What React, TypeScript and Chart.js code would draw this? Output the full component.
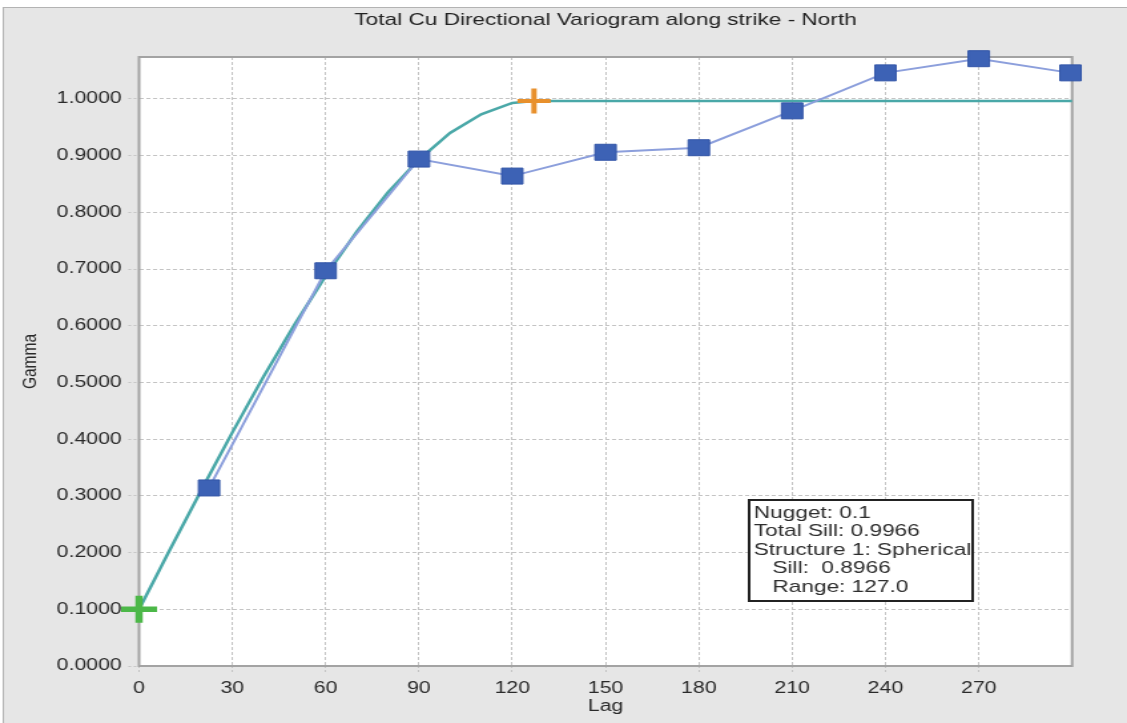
import React, { useEffect, useRef } from "react";
import { Chart, registerables } from "chart.js";

Chart.register(...registerables);

// ---- data ----
const TITLE = "Total Cu Directional Variogram along strike - North";
const X_LABEL = "Lag";
const Y_LABEL = "Gamma";

const lagValues = [22.5, 60, 90, 120, 150, 180, 210, 240, 270, 299.5];
const gammaValues = [0.314, 0.697, 0.894, 0.864, 0.906, 0.914, 0.979, 1.046, 1.071, 1.046];

const modelLags = [0, 5, 10, 15, 20, 25, 30, 40, 50, 60, 70, 80, 90, 100, 110, 120, 127, 300];
const modelGamma = [0.1, 0.153, 0.206, 0.258, 0.31, 0.361, 0.412, 0.51, 0.602, 0.688, 0.766, 0.835, 0.893, 0.94, 0.973, 0.993, 0.9966, 0.9966];

const nuggetPoint = { x: 0, y: 0.1 };
const rangePoint = { x: 127, y: 0.9966 };

const infoLines = ["Nugget: 0.1", "Total Sill: 0.9966", "Structure 1: Spherical", "Sill:  0.8966", "Range: 127.0"];
const infoIndent = [0, 0, 0, 1, 1];

const X_MAX = 300;
const X_STEP = 30;
const Y_MAX = 1.074;
const Y_STEP = 0.1;

// ---- layout (internal canvas is stretched horizontally to match the reference) ----
const OUT_W = 1127;
const OUT_H = 723;
const STRETCH = 1.3306;
const IN_W = Math.round(OUT_W / STRETCH);
const FONT = "'Liberation Sans', Arial, sans-serif";

const bgPlugin = {
  id: "bgPlugin",
  beforeDraw(chart: any) {
    const { ctx, width, height, chartArea: a } = chart;
    ctx.save();
    ctx.fillStyle = "#ffffff";
    ctx.fillRect(0, 0, width, height);
    ctx.fillStyle = "#e6e6e6";
    ctx.fillRect(2.5, 7, width, height);
    ctx.strokeStyle = "#b3b3b3";
    ctx.lineWidth = 1;
    ctx.strokeRect(2.5, 7.5, width + 20, height + 20);
    ctx.fillStyle = "#ffffff";
    ctx.fillRect(a.left, a.top, a.right - a.left, a.bottom - a.top);
    ctx.restore();
  },
  beforeDatasetsDraw(chart: any) {
    const { ctx, chartArea: a } = chart;
    ctx.save();
    ctx.strokeStyle = "#a3a3a3";
    ctx.lineWidth = 2;
    ctx.strokeRect(a.left, a.top, a.right - a.left, a.bottom - a.top);
    ctx.restore();
  },
  afterDraw(chart: any) {
    const { ctx, chartArea: a } = chart;
    const bw = 168;
    const bh = 101;
    const bx = a.right - 74.7 - bw;
    const by = a.bottom - 65 - bh;
    ctx.save();
    ctx.fillStyle = "#ffffff";
    ctx.fillRect(bx, by, bw, bh);
    ctx.strokeStyle = "#222222";
    ctx.lineWidth = 2;
    ctx.strokeRect(bx, by, bw, bh);
    ctx.fillStyle = "#2e2e2e";
    ctx.font = `17px ${FONT}`;
    ctx.textBaseline = "middle";
    ctx.textAlign = "left";
    infoLines.forEach((t, i) => {
      ctx.fillText(t, bx + 3.5 + infoIndent[i] * 14, by + 13 + i * 18.6);
    });
    ctx.restore();
  },
};

export default function App() {
  const ref = useRef<HTMLCanvasElement | null>(null);

  useEffect(() => {
    const canvas = ref.current;
    if (!canvas) return;
    const expPoints = lagValues.map((x, i) => ({ x, y: gammaValues[i] }));
    const modelPoints = modelLags.map((x, i) => ({ x, y: modelGamma[i] }));

    const chart = new Chart(canvas, {
      type: "line",
      data: {
        datasets: [
          {
            label: "nugget",
            data: [nuggetPoint],
            showLine: false,
            pointStyle: "cross",
            pointRadius: 13.5,
            pointBorderWidth: 5.5,
            pointBorderColor: "#4cb848",
            pointBackgroundColor: "#4cb848",
            clip: false,
          } as any,
          {
            label: "range",
            data: [rangePoint],
            showLine: false,
            pointStyle: "cross",
            pointRadius: 12.5,
            pointBorderWidth: 4,
            pointBorderColor: "#e8902c",
            pointBackgroundColor: "#e8902c",
            clip: false,
          },
          {
            label: "experimental",
            data: expPoints,
            borderColor: "#8c9fdc",
            borderWidth: 2,
            pointStyle: "rect",
            pointRadius: 11.3,
            pointBackgroundColor: "#3d62b5",
            pointBorderColor: "#3356a8",
            pointBorderWidth: 1,
            tension: 0,
            clip: false,
          },
          {
            label: "model",
            data: modelPoints,
            borderColor: "#4aa8a8",
            borderWidth: 2.5,
            pointRadius: 0,
            tension: 0,
            clip: false,
          },
        ],
      },
      options: {
        animation: false,
        responsive: false,
        devicePixelRatio: 1,
        parsing: true,
        layout: { padding: { left: 0, right: IN_W - 805.7, top: 0, bottom: 0 } },
        plugins: {
          legend: { display: false },
          tooltip: { enabled: false },
          title: {
            display: true,
            text: TITLE,
            fullSize: false,
            color: "#222222",
            font: { family: FONT, size: 17, weight: "normal" as any, lineHeight: 1.2 },
            padding: { top: 10.5, bottom: 26.1 },
          },
        },
        scales: {
          x: {
            type: "linear",
            min: 0,
            max: X_MAX,
            afterBuildTicks: (scale: any) => {
              scale.ticks = scale.ticks.filter((t: any) => t.value < X_MAX - 0.001);
            },
            afterFit: (scale: any) => {
              scale.height = OUT_H - 666;
            },
            ticks: {
              stepSize: X_STEP,
              color: "#2a2a2a",
              font: { family: FONT, size: 16 },
              padding: 5,
              maxRotation: 0,
            },
            grid: {
              color: "#c4c4c4",
              lineWidth: 1,
              tickLength: 8,
              tickColor: "#c4c4c4",
              tickBorderDash: [2, 2],
            } as any,
            border: { display: false, dash: [3, 2] },
            title: {
              display: true,
              text: X_LABEL,
              color: "#2a2a2a",
              font: { family: FONT, size: 16 },
              padding: { top: 0, bottom: 7 },
            },
          },
          y: {
            type: "linear",
            min: 0,
            max: Y_MAX,
            afterBuildTicks: (scale: any) => {
              scale.ticks = scale.ticks.filter((t: any) => t.value <= 1.0001);
            },
            afterFit: (scale: any) => {
              scale.width = 104.5;
            },
            ticks: {
              stepSize: Y_STEP,
              color: "#2a2a2a",
              font: { family: FONT, size: 16 },
              padding: 5,
              callback: (v: any) => Number(v).toFixed(4),
            },
            grid: {
              color: "#c4c4c4",
              lineWidth: 1,
              tickLength: 8,
              tickColor: "#c4c4c4",
              tickBorderDash: [2, 2],
            } as any,
            border: { display: false, dash: [3, 2] },
            title: {
              display: true,
              text: Y_LABEL,
              color: "#2a2a2a",
              font: { family: FONT, size: 15.5 },
              padding: { top: 13.5, bottom: 0 },
            },
          },
        },
      },
      plugins: [bgPlugin],
    } as any);

    return () => chart.destroy();
  }, []);

  return (
    <div style={{ position: "fixed", left: 0, top: 0, width: OUT_W, height: OUT_H, overflow: "hidden" }}>
      <canvas
        ref={ref}
        width={IN_W}
        height={OUT_H}
        style={{ width: `${OUT_W}px`, height: `${OUT_H}px`, display: "block" }}
      />
    </div>
  );
}
